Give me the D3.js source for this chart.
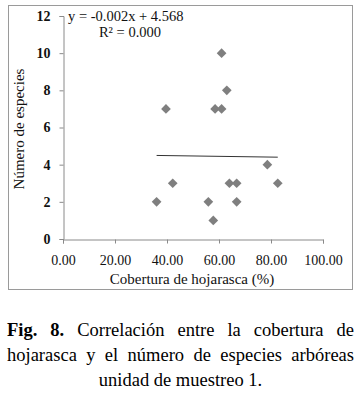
<!DOCTYPE html>
<html>
<head>
<meta charset="utf-8">
<script src="https://cdn.jsdelivr.net/npm/d3@7"></script>
<style>
  body { margin: 0; background: #fff; }
  svg { display: block; }
</style>
</head>
<body>
<div id="canvas"></div>
<script>
"use strict"

/* Data */
let cobertura = [36, 39.6, 42.2, 55.9, 57.8, 58.5, 61, 61, 63, 64, 66.8, 66.8, 78.6, 82.6];
let especies  = [2, 7, 3, 2, 1, 7, 7, 10, 8, 3, 3, 2, 4, 3];
let xTicks = [0, 20, 40, 60, 80, 100];
let yTicks = [0, 2, 4, 6, 8, 10, 12];
let slope = -0.002;
let intercept = 4.568;

/* Drawing config */
let svgWidth = 361;
let svgHeight = 395;
let serif = "Liberation Serif";

let svg = d3.select("#canvas")
    .append("svg")
    .attr("width", svgWidth)
    .attr("height", svgHeight);

/* small helper for plain text */
function label(x, y, str, size, anchor) {
    return svg.append("text")
        .attr("x", x)
        .attr("y", y)
        .attr("font-family", serif)
        .attr("font-size", size)
        .attr("text-anchor", anchor || "start")
        .attr("fill", "#111")
        .text(str);
}

/* Chart frame */
svg.append("rect")
    .attr("x", 8.5)
    .attr("y", 5.5)
    .attr("width", 344)
    .attr("height", 284)
    .attr("fill", "#fff")
    .attr("stroke", "#9a9a9a");

let xScale = d3.scaleLinear()
    .domain([0, 100])
    .range([63, 323]);

let yScale = d3.scaleLinear()
    .domain([0, 12])
    .range([239, 16]);

/* axes */
let xAxis = svg.append("g")
    .attr("transform", "translate(0,239.5)")
    .call(d3.axisBottom(xScale).tickValues(xTicks).tickSize(4).tickPadding(12)
        .tickFormat(d3.format(".2f")));

let yAxis = svg.append("g")
    .attr("transform", "translate(63.5,0)")
    .call(d3.axisLeft(yScale).tickValues(yTicks).tickSize(4).tickPadding(9));

[xAxis, yAxis].forEach(function (ax) {
    ax.attr("font-family", serif).attr("font-size", 14);
    ax.select(".domain").attr("stroke", "#8a8a8a");
    ax.selectAll(".tick line").attr("stroke", "#8a8a8a");
    ax.selectAll("text").attr("fill", "#111");
});
yAxis.selectAll("text").attr("font-weight", "bold");

/* trend line over the data range */
let xExtent = d3.extent(cobertura);
let line = d3.line()
    .x(function (d) { return xScale(d); })
    .y(function (d) { return yScale(slope * d + intercept); });

svg.append("path")
    .datum(xExtent)
    .attr("d", line)
    .attr("fill", "none")
    .attr("stroke", "#333")
    .attr("stroke-width", 1);

/* points as diamonds */
svg.selectAll(".pt")
    .data(d3.range(cobertura.length))
    .join("path")
    .attr("class", "pt")
    .attr("d", d3.symbol().type(d3.symbolDiamond2).size(60))
    .attr("transform", function (i) {
        return "translate(" + xScale(cobertura[i]) + "," + yScale(especies[i]) + ")";
    })
    .attr("fill", "#7f7f7f");

/* equation */
label(68, 21, "y = -0.002x + 4.568", 14.5);
label(130, 37, "R² = 0.000", 14.5, "middle");

/* axis titles */
label(192, 284, "Cobertura de hojarasca (%)", 15, "middle");
label(0, 0, "Número de especies", 15, "middle")
    .attr("transform", "translate(24,129) rotate(-90)");

/* caption, justified lines */
let captionLines = [
    [{t: "Fig.", b: true}, {t: "8.", b: true}, {t: "Correlación"}, {t: "entre"}, {t: "la"}, {t: "cobertura"}, {t: "de"}],
    [{t: "hojarasca"}, {t: "y"}, {t: "el"}, {t: "número"}, {t: "de"}, {t: "especies"}, {t: "arbóreas"}]
];
let capLeft = 7;
let capRight = 354;
let capSize = 18.5;

captionLines.forEach(function (words, li) {
    let y = 336 + li * 25;
    let nodes = words.map(function (w) {
        return label(0, y, w.t, capSize)
            .attr("font-weight", w.b ? "bold" : "normal")
            .attr("fill", "#000");
    });
    let widths = nodes.map(function (n) { return n.node().getComputedTextLength(); });
    let gap = (capRight - capLeft - d3.sum(widths)) / (words.length - 1);
    let x = capLeft;
    nodes.forEach(function (n, i) {
        n.attr("x", x);
        x += widths[i] + gap;
    });
});

label(svgWidth / 2, 386, "unidad de muestreo 1.", capSize, "middle").attr("fill", "#000");
</script>
</body>
</html>
